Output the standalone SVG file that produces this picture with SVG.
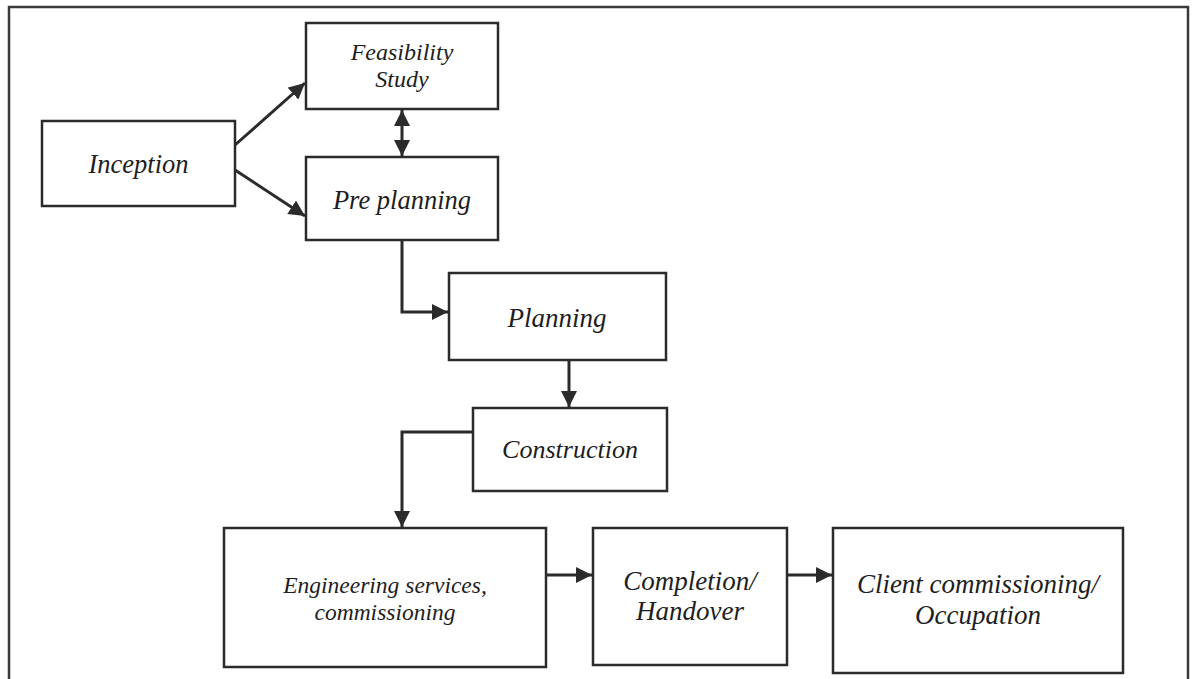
<svg xmlns="http://www.w3.org/2000/svg" width="1194" height="679" viewBox="0 0 1194 679">
<style>
.box{fill:#fff;stroke:#2b2b2b;stroke-width:2.5}
.frame{fill:none;stroke:#3a3a3a;stroke-width:2.5}
.lbl{font-family:"Liberation Serif","Times New Roman",serif;font-style:italic;fill:#1e1e1e;text-anchor:middle}
.conn{fill:none;stroke:#2b2b2b;stroke-width:3}
</style>
<defs>
<marker id="ah" markerUnits="userSpaceOnUse" markerWidth="17" markerHeight="16" refX="16" refY="8" orient="auto-start-reverse">
<path d="M0,0 L16,8 L0,16 z" fill="#2b2b2b"/>
</marker>
</defs>
<rect x="0" y="0" width="1194" height="679" fill="#fff"/>
<rect class="frame" x="9" y="7" width="1179" height="690"/>
<g id="connectors">
<line class="conn" x1="235" y1="145" x2="305" y2="83" marker-end="url(#ah)"/>
<line class="conn" x1="235" y1="170" x2="305" y2="216" marker-end="url(#ah)"/>
<line class="conn" x1="402" y1="110" x2="402" y2="156" marker-start="url(#ah)" marker-end="url(#ah)"/>
<polyline class="conn" points="402,240 402,312 448,312" marker-end="url(#ah)"/>
<line class="conn" x1="569" y1="360" x2="569" y2="407" marker-end="url(#ah)"/>
<polyline class="conn" points="473,432 402,432 402,527" marker-end="url(#ah)"/>
<line class="conn" x1="546" y1="575" x2="592" y2="575" marker-end="url(#ah)"/>
<line class="conn" x1="787" y1="575" x2="832" y2="575" marker-end="url(#ah)"/>
</g>
<g id="inception">
<rect class="box" x="42" y="121" width="193" height="85"/>
<text class="lbl" x="138.5" y="173" font-size="26.5">Inception</text>
</g>
<g id="feasibility">
<rect class="box" x="306" y="23" width="192" height="86"/>
<text class="lbl" x="402" y="60" font-size="24">Feasibility</text>
<text class="lbl" x="402" y="87" font-size="24">Study</text>
</g>
<g id="preplanning">
<rect class="box" x="306" y="157" width="192" height="83"/>
<text class="lbl" x="402" y="209" font-size="26.5">Pre planning</text>
</g>
<g id="planning">
<rect class="box" x="449" y="273" width="217" height="87"/>
<text class="lbl" x="557" y="327" font-size="27">Planning</text>
</g>
<g id="construction">
<rect class="box" x="473" y="408" width="194" height="83"/>
<text class="lbl" x="570" y="458" font-size="26">Construction</text>
</g>
<g id="engineering">
<rect class="box" x="224" y="528" width="322" height="139"/>
<text class="lbl" x="385" y="593" font-size="23.5">Engineering services,</text>
<text class="lbl" x="385" y="620" font-size="23.5">commissioning</text>
</g>
<g id="completion">
<rect class="box" x="593" y="528" width="194" height="137"/>
<text class="lbl" x="690" y="590" font-size="27">Completion/</text>
<text class="lbl" x="690" y="620" font-size="27">Handover</text>
</g>
<g id="client">
<rect class="box" x="833" y="528" width="290" height="145"/>
<text class="lbl" x="978" y="593" font-size="27">Client commissioning/</text>
<text class="lbl" x="978" y="624" font-size="27">Occupation</text>
</g>
</svg>
